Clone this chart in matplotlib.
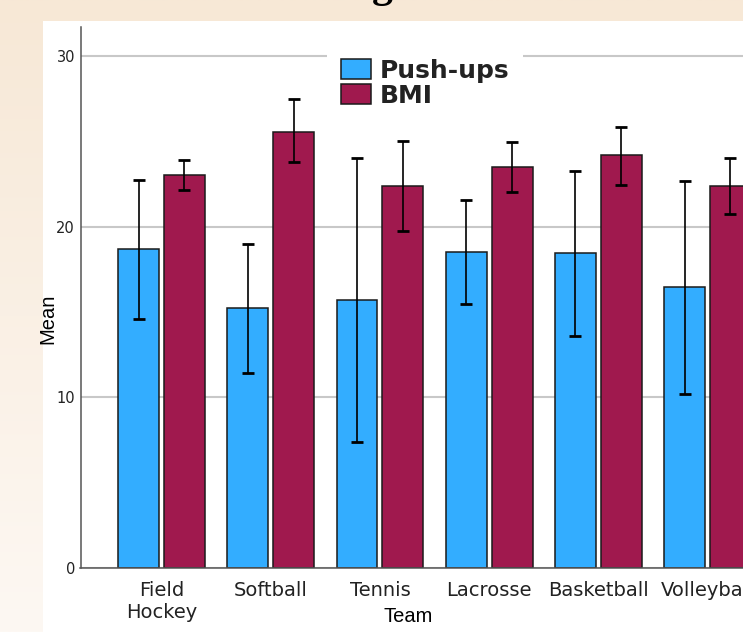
import numpy as np
import matplotlib
matplotlib.use("Agg")
import matplotlib.pyplot as plt
from matplotlib.patches import Rectangle

# values (means with CI bounds)
teams = ["Field\nHockey", "Softball", "Tennis", "Lacrosse", "Basketball", "Volleyball"]
pushups = [18.67, 15.21, 15.72, 18.49, 18.43, 16.46]
pushups_lo = [14.6, 11.4, 7.36, 15.48, 13.59, 10.19]
pushups_hi = [22.7, 19.0, 24.02, 21.56, 23.24, 22.67]
bmi = [23.02, 25.56, 22.36, 23.51, 24.18, 22.36]
bmi_lo = [22.16, 23.78, 19.74, 22.04, 22.44, 20.74]
bmi_hi = [23.88, 27.46, 25.0, 24.96, 25.85, 24.04]
yticks = [0, 10, 20, 30]

W, H = 743, 632
fig = plt.figure(figsize=(W / 100, H / 100), dpi=100)

# blurred-photo style background + white panel
bg = fig.add_axes([0, 0, 1, 1], zorder=-10)
grad = np.linspace(0, 1, 256).reshape(-1, 1)
top = np.array([247, 232, 214]) / 255
bot = np.array([253, 248, 243]) / 255
img = top + (bot - top) * grad[..., None]
bg.imshow(img, aspect="auto", extent=[0, 1, 0, 1])
bg.axis("off")
bg.add_patch(Rectangle((43 / W, 0), 1, 1 - 21 / H, transform=bg.transAxes,
                       facecolor="white", edgecolor="none"))

# cut-off title: only the descender shows
fig.text(382 / W, 1 + 3 / H, "g", family="Liberation Serif", weight="bold",
         fontsize=30, ha="center", va="baseline", color="black")

ax = fig.add_axes([80.5 / W, 1 - 568 / H, 1 - 80.5 / W, (568 - 27) / H])
ax.set_facecolor("none")

x = np.arange(len(teams))
w = 0.375
off = 0.21
blue = "#33adff"
maroon = "#a0194e"

p = np.array(pushups)
b = np.array(bmi)
perr = [p - np.array(pushups_lo), np.array(pushups_hi) - p]
berr = [b - np.array(bmi_lo), np.array(bmi_hi) - b]

ax.bar(x - off, p, w, color=blue, edgecolor="#1a1a1a", linewidth=1.1,
       label="Push-ups", zorder=3)
ax.bar(x + off, b, w, color=maroon, edgecolor="#1a1a1a", linewidth=1.1,
       label="BMI", zorder=3)
ax.errorbar(x - off, p, yerr=perr, fmt="none", ecolor="black", elinewidth=1.2,
            capsize=4, capthick=2, zorder=4)
ax.errorbar(x + off, b, yerr=berr, fmt="none", ecolor="black", elinewidth=1.2,
            capsize=4, capthick=2, zorder=4)

ax.set_xlim(-0.742, 5.325)
ax.set_ylim(0, 31.69)
ax.set_yticks(yticks)
ax.set_xticks(x)
ax.set_xticklabels(teams, fontsize=14, color="#222222", family="DejaVu Sans")
ax.tick_params(axis="x", length=0, pad=9)
ax.tick_params(axis="y", length=0, pad=4, labelsize=10.5, labelcolor="#222222")
ax.yaxis.grid(True, color="#c8c8c8", linewidth=1.5, zorder=0)
ax.set_axisbelow(True)
for s in ["top", "right"]:
    ax.spines[s].set_visible(False)
for s in ["left", "bottom"]:
    ax.spines[s].set_color("#555555")
    ax.spines[s].set_linewidth(1.1)
    ax.spines[s].set_zorder(5)

fig.text(48 / W, 1 - 319 / H, "Mean", rotation=90, family="Liberation Sans",
         fontsize=14.5, ha="center", va="center", color="black")
fig.text(408.5 / W, 1 - 617 / H, "Team", family="Liberation Sans",
         fontsize=14.5, ha="center", va="center", color="black")

leg = ax.legend(loc="upper left", bbox_to_anchor=(327 / W, 1 - 45 / H),
                bbox_transform=fig.transFigure, borderaxespad=0,
                prop={"family": "DejaVu Sans", "weight": "bold", "size": 18},
                handlelength=1.2, handleheight=0.85, handletextpad=0.35,
                labelspacing=0.05, borderpad=0.55, frameon=True, fancybox=False)
leg.get_frame().set_facecolor("white")
leg.get_frame().set_edgecolor("none")
leg.get_frame().set_alpha(1)
for t in leg.get_texts():
    t.set_color("#222222")

fig.savefig("out.png", dpi=100)
